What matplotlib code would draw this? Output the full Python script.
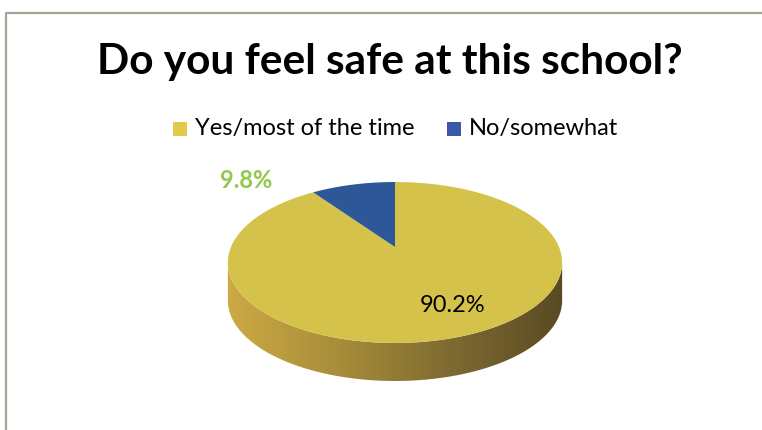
import numpy as np
import matplotlib
matplotlib.use("Agg")
import matplotlib.pyplot as plt
from matplotlib.patches import Polygon, Rectangle
from matplotlib.colors import LinearSegmentedColormap

title = "Do you feel safe at this school?"
categories = ["Yes/most of the time", "No/somewhat"]
values = [90.2, 9.8]
labels = ["90.2%", "9.8%"]

top_colors = ["#d5c24b", "#2e5797"]
legend_colors = ["#e2c94c", "#3b58a8"]

plt.rcParams['font.family'] = ['Lato', 'DejaVu Sans']

fig = plt.figure(figsize=(7.62, 4.30), dpi=100)
ax = fig.add_axes([0, 0, 1, 1])
ax.set_xlim(0, 762)
ax.set_ylim(430, 0)
ax.axis('off')

# frame
ax.plot([6, 6, 762], [430, 12.5, 12.5], color='#a4a697', lw=1.6, solid_capstyle='butt')

# title
ax.text(390, 62, title, ha='center', va='center', fontsize=30.5, fontweight='bold', color='black')

# legend
lx = [173, 447]
for i, (c, col) in enumerate(zip(categories, legend_colors)):
    ax.add_patch(Rectangle((lx[i], 122), 14, 14, facecolor=col, edgecolor='none'))
    ax.text(lx[i] + 22, 129, c, ha='left', va='center', fontsize=17, color='black')

# 3D pie geometry with simple perspective
cx, vy = 395.0, 247.0   # projected centre of the top face
A, B, k = 77.5, 164.0, 0.1926
depth = 38.0


def proj(theta_deg, dy=0.0):
    th = np.radians(theta_deg)
    X, Z = np.sin(th), np.cos(th)
    d = 1 + k * Z
    return np.column_stack([cx + B * X / d, vy - A * Z / d + dy])


# side band (front visible part) with horizontal gradient
te = np.degrees(np.arccos(-k))  # silhouette angle
ang = np.linspace(te, 360 - te, 300)
upper = proj(ang)
lower = proj(ang[::-1], depth)
side = Polygon(np.vstack([upper, lower]), closed=True, facecolor='none', edgecolor='none')
ax.add_patch(side)
cmap = LinearSegmentedColormap.from_list('side', ['#cdaa45', '#a78c3a', '#7e6a31', '#5a4a24'])
grad = np.linspace(0, 1, 256).reshape(1, -1)
xmin, xmax = upper[:, 0].min(), upper[:, 0].max()
im = ax.imshow(grad, cmap=cmap, extent=(xmin - 1, xmax + 1, lower[:, 1].max() + 2, vy),
               aspect='auto', zorder=2)
im.set_clip_path(side)

# top face wedges (clockwise from 12 o'clock)
start = 0.0
total = sum(values)
for v, col in zip(values, top_colors):
    span = v / total * 360.0
    pts = proj(np.linspace(start, start + span, 300))
    poly = np.vstack([[cx, vy], pts])
    ax.add_patch(Polygon(poly, closed=True, facecolor=col, edgecolor='none', zorder=3))
    start += span

# data labels
ax.text(453, 305, labels[0], ha='center', va='center', fontsize=17, color='black', zorder=4)
ax.text(246, 180, labels[1], ha='center', va='center', fontsize=17, fontweight='bold',
        color='#92c84c', zorder=4)

fig.savefig('out.png', dpi=100)
